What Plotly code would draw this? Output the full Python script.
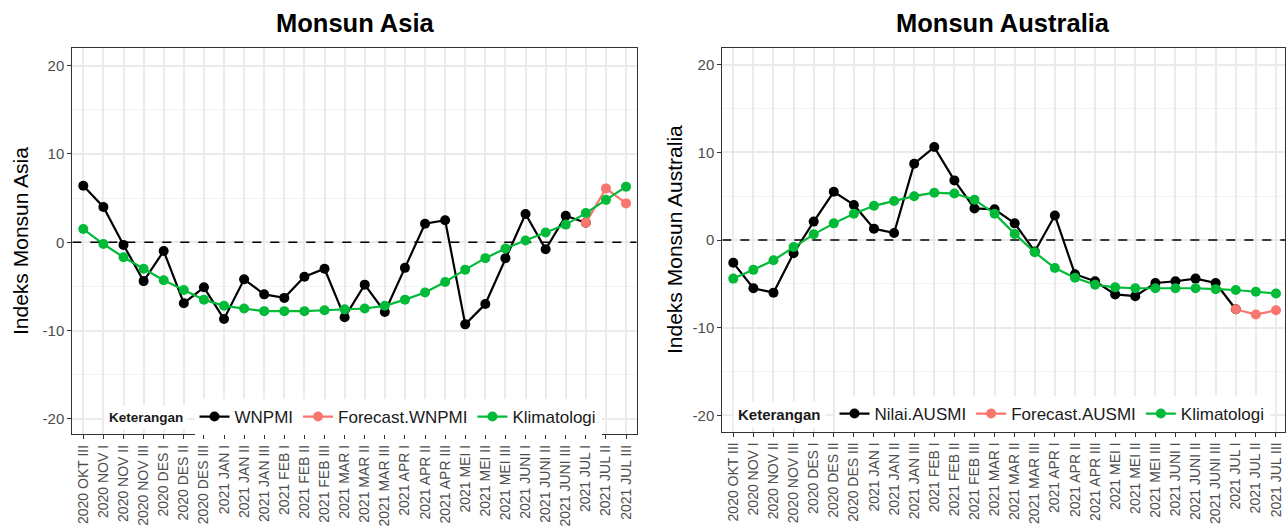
import plotly.graph_objects as go

# Dasarian periods (x categories)
periode = [
    "2020 OKT III", "2020 NOV I", "2020 NOV II", "2020 NOV III",
    "2020 DES I", "2020 DES II", "2020 DES III",
    "2021 JAN I", "2021 JAN II", "2021 JAN III",
    "2021 FEB I", "2021 FEB II", "2021 FEB III",
    "2021 MAR I", "2021 MAR II", "2021 MAR III",
    "2021 APR I", "2021 APR II", "2021 APR III",
    "2021 MEI I", "2021 MEI II", "2021 MEI III",
    "2021 JUNI I", "2021 JUNI II", "2021 JUNI III",
    "2021 JUL I", "2021 JUL II", "2021 JUL III",
]

# Monsun Asia
wnpmi = [6.4, 4.0, -0.3, -4.4, -1.0, -6.9, -5.1, -8.7, -4.2, -5.9, -6.3, -3.9, -3.0,
         -8.5, -4.8, -7.9, -2.9, 2.1, 2.5, -9.3, -7.0, -1.8, 3.2, -0.8, 3.0, 2.2,
         None, None]
forecast_wnpmi = [None] * 25 + [2.2, 6.1, 4.4]
klimatologi_asia = [1.5, -0.2, -1.7, -3.0, -4.3, -5.4, -6.5, -7.2, -7.5, -7.8, -7.8,
                    -7.8, -7.7, -7.6, -7.5, -7.2, -6.5, -5.7, -4.5, -3.1, -1.8, -0.7,
                    0.2, 1.1, 2.0, 3.3, 4.8, 6.3]

# Monsun Australia
nilai_ausmi = [-2.6, -5.5, -6.0, -1.5, 2.1, 5.5, 4.0, 1.3, 0.8, 8.7, 10.6, 6.8, 3.6,
               3.5, 1.9, -1.3, 2.8, -3.9, -4.7, -6.2, -6.4, -4.9, -4.7, -4.4, -4.9,
               -7.9, None, None]
forecast_ausmi = [None] * 25 + [-7.9, -8.5, -8.0]
klimatologi_aus = [-4.4, -3.4, -2.3, -0.8, 0.65, 1.9, 3.0, 3.9, 4.45, 5.0, 5.4, 5.3,
                   4.6, 3.0, 0.7, -1.4, -3.2, -4.3, -5.1, -5.4, -5.5, -5.5, -5.5,
                   -5.5, -5.6, -5.7, -5.9, -6.1]

y_ticks = [-20, -10, 0, 10, 20]
y_ticktext = ["-20", "-10", "0", "10", "20"]

FONT = "Liberation Sans, Arial, sans-serif"
BLACK = "#000000"
PINK = "#F8766D"
GREEN = "#00BA38"
W, H = 1286, 531

X1_RANGE = [-0.547, 27.53]
X2_RANGE = [-0.547, 27.45]


def px_x(p):
    return p / W


def px_y(p):
    return (H - p) / H


fig = go.Figure()


def add_series(y, name, color, xa, ya, leg):
    fig.add_trace(go.Scatter(
        x=periode, y=y, name=name, mode="lines+markers",
        line=dict(color=color, width=2.2),
        marker=dict(color=color, size=10),
        xaxis=xa, yaxis=ya, legend=leg, connectgaps=False,
    ))


add_series(wnpmi, "WNPMI", BLACK, "x", "y", "legend")
add_series(forecast_wnpmi, "Forecast.WNPMI", PINK, "x", "y", "legend")
add_series(klimatologi_asia, "Klimatologi", GREEN, "x", "y", "legend")

add_series(nilai_ausmi, "Nilai.AUSMI", BLACK, "x2", "y2", "legend2")
add_series(forecast_ausmi, "Forecast.AUSMI", PINK, "x2", "y2", "legend2")
add_series(klimatologi_aus, "Klimatologi", GREEN, "x2", "y2", "legend2")

xcommon = dict(
    type="category", categoryorder="array", categoryarray=periode,
    tickangle=-90, tickfont=dict(family=FONT, size=14, color="#4D4D4D"),
    ticks="outside", ticklen=4, tickcolor="#333333",
    showgrid=True, gridcolor="#EBEBEB", gridwidth=1.5,
    showline=True, mirror=True, linecolor="#333333", linewidth=1,
    zeroline=False, fixedrange=True,
)
ycommon = dict(
    tickmode="array", tickvals=y_ticks, ticktext=y_ticktext,
    tickfont=dict(family=FONT, size=15, color="#4D4D4D"),
    ticks="outside", ticklen=4, tickcolor="#333333",
    showgrid=True, gridcolor="#EBEBEB", gridwidth=1.5,
    minor=dict(tickvals=[-15, -5, 5, 15], showgrid=True, gridcolor="#F3F3F3",
               gridwidth=1),
    showline=True, mirror=True, linecolor="#333333", linewidth=1,
    zeroline=False, fixedrange=True,
)

legend_common = dict(
    orientation="h", xanchor="center", yanchor="middle",
    bgcolor="white", borderwidth=0,
    font=dict(family=FONT, size=17, color="#1A1A1A"),
    itemwidth=30, traceorder="normal",
)

fig.update_layout(
    width=W, height=H,
    margin=dict(l=0, r=0, t=0, b=0),
    paper_bgcolor="white", plot_bgcolor="white",
    font=dict(family=FONT),
    xaxis=dict(xcommon, domain=[px_x(72.3), px_x(636.7)], range=X1_RANGE,
               anchor="y"),
    yaxis=dict(ycommon, domain=[px_y(434.3), px_y(48)], range=[-21.75, 22.0],
               anchor="x"),
    xaxis2=dict(xcommon, domain=[px_x(722.3), px_x(1285)], range=X2_RANGE,
                anchor="y2"),
    yaxis2=dict(ycommon, domain=[px_y(431.7), px_y(48)], range=[-21.86, 21.9],
                anchor="x2"),
    legend=dict(legend_common, x=px_x(398), y=px_y(417)),
    legend2=dict(legend_common, x=px_x(1052), y=px_y(414)),
    showlegend=True,
)

# Legend headings
for cx, cy, size in ((146, 417, 13.5), (779, 414, 15)):
    fig.add_annotation(text="<b>Keterangan</b>", xref="paper", yref="paper",
                       x=px_x(cx), y=px_y(cy), xanchor="center", yanchor="middle",
                       showarrow=False, bgcolor="white", borderpad=4,
                       font=dict(family=FONT, size=size, color="#1A1A1A"))

# Dashed reference line at zero
for xr, yr, rng in (("x", "y", X1_RANGE), ("x2", "y2", X2_RANGE)):
    fig.add_shape(type="line", xref=xr, yref=yr, x0=rng[0], x1=rng[1], y0=0, y1=0,
                  line=dict(color="#000000", width=1.4, dash="dash"),
                  layer="between")

# Panel titles
for text, cx in (("Monsun Asia", 355), ("Monsun Australia", 1003)):
    fig.add_annotation(text=f"<b>{text}</b>", xref="paper", yref="paper",
                       x=px_x(cx), y=px_y(23), xanchor="center", yanchor="middle",
                       showarrow=False,
                       font=dict(family=FONT, size=25.5, color="#000000"))

# Y-axis titles
for text, cx, cy in (("Indeks Monsun Asia", 21, 241), ("Indeks Monsun Australia", 674, 240)):
    fig.add_annotation(text=text, xref="paper", yref="paper",
                       x=px_x(cx), y=px_y(cy), xanchor="center", yanchor="middle",
                       textangle=-90, showarrow=False,
                       font=dict(family=FONT, size=21, color="#000000"))

fig.write_html("out.html")
